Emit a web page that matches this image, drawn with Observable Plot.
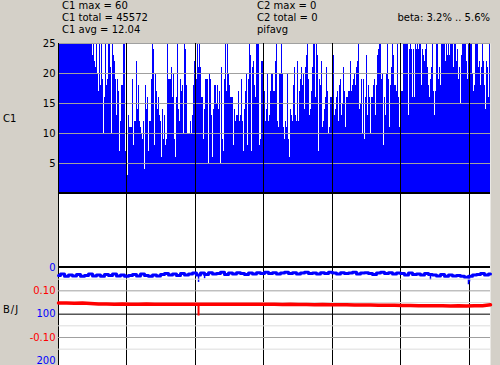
<!DOCTYPE html>
<html>
<head>
<meta charset="utf-8">
<script src="https://cdn.jsdelivr.net/npm/d3@7"></script>
<script src="https://cdn.jsdelivr.net/npm/@observablehq/plot@0.6"></script>
<style>
html, body { margin: 0; padding: 0; background: #d4d0c8; }
#wrap { position: relative; width: 500px; height: 365px; overflow: hidden; background: #d4d0c8;
        font-family: "DejaVu Sans", sans-serif; font-size: 10px; color: #000; }
#wrap svg { position: absolute; left: 0; top: 0; }
.t { position: absolute; line-height: 12.2px; white-space: pre; }
</style>
</head>
<body>
<div id="wrap"></div>
<script>
// ---------------- data ----------------
const TOTAL_SAMPLES = 3785;          // 45572 / 12.04
const COLUMNS = 432;                 // one value per drawn column
const c1Stats = ["C1 max = 60", "C1 total = 45572", "C1 avg = 12.04"];
const c2Stats = ["C2 max = 0", "C2 total = 0", "pifavg"];
const betaText = "beta: 3.2% .. 5.6%";
const c1Label = "C1";
const bjLabel = "B/J";

const c1Ticks = [5, 10, 15, 20, 25];
const markerSamples = [600, 1200, 1800, 2400, 3000, 3600];

// C1 column values (clipped display at 25)
const c1Columns = [
  25,25,25,25,25,25,25,25,25,25,25,25,25,25,25,25,25,25,25,25,25,25,25,25,25,25,25,25,25,25,25,25,25,25,
  23,25,22,21,25,20,17,25,18,25,19,10,16,25,18,19,25,25,21,10,25,23,22,19,13,19,17,7,12,18,18,25,25,7,7,3,
  13,11,11,11,19,8,12,12,22,14,18,12,11,10,9,12,4,18,14,16,7,12,12,19,25,24,8,20,17,14,16,13,12,6,14,9,
  13,8,9,25,19,19,19,21,16,20, 9,6,16,25,14,12,19,17,18,10, 25,24,18,10,10,10,12,10,13,18,
  22,19,19,25,21,25,21,16,16,9, 14,19,19,19,5,20,19,13,6,14, 18,18,15,18,14,17,5,21,9,7,
  19,25,17,25,20,18,16,16,16,8, 14,12,13,13,17,12,13,19,12,7, 14,17,20,8,19,25,23,7,21,22,
  18,16,25,25,25,8,9,22,22,23, 17,12,14,20,12,13,17,20,
  20,17,17,22,25,12,11,20,20,25, 20,11,9,12,11,20,9,6,14,13, 12,18,21,13,12,22,12,17,19,21,
  18,20,14,21,23,25,19,13,14,17, 21,25,25,16,25,23,7,19,18,22, 11,12,14,16,21,17,10,11,16,16,
  23,23,13,14,16,17,12,18,19,13, 15,21,17,11,16,16,17,17,22,17, 18,19,20,18,21,22,25,14,15,19,
  10,19,9,16,23,13,18,16,10,16, 16,18,19,13,18,23,24,25,
  25,19,20,8,16,13,20,25,19,11, 18,21,25,23,18,18,17,25,16,11, 13,17,17,25,25,25,25,25,13,24,
  25,24,16,24,16,25,24,25,24,25, 25,18,24,23,22,24,25,21,18,16, 19,21,25,17,13,17,25,25,19,21,
  18,25,25,25,25,22,25,23,25,23, 25,25,25,21,25,25,22,24,19,21, 15,23,25,25,25,25,22,19,25,25,
  25,25,20,17,18,25,25,25,21,22, 18,21,25,22,18,14,22,21,16,25
];

// B (blue, 0..200 axis) sampled every 4th column
const bjBlueStep = 4;
const bjBlue = [
  17,14,19,16,18,15,19,17,14,18,16,19,15,17,14,18,16,19,17,15,18,14,17,19,16,18,15,
  13,16,14,17,13,16,14,12,16,
  12,15,11,14,13,10,15,12,14,11,13,15,12,14,11,13,
  10,13,11,14,12,10,13,11,14,12,10,13,12,14,11,13,10,12,14,11,13,12,10,14,12,11,13,15,12,10,13,11,14,12,
  13,16,12,15,14,16,13,15,
  16,18,15,19,16,18,17,19,
  21,19,16,
  15,13,16,14
];
const bjBlueSpikeSample = [1227, 1280, 3259, 3592, 3601];
const bjBlueSpikeLow    = [15, 13, 14, 18, 17];
const bjBlueSpikeHigh   = [32, 24, 27, 37, 31];

// J (red, -0.10..0.10 axis) sampled every 8th column
const bjRedStep = 8;
const bjRed = [
  0.048,0.048,0.047,0.048,0.046,0.044,0.044,0.043,0.044,0.043,0.043,0.044,0.043,0.043,0.042,
  0.043,0.043,0.042,0.043,0.043,0.042,0.043,0.043,0.042,0.043,0.042,0.042,0.042,0.041,0.042,
  0.041,0.041,0.040,0.041,0.040,0.040,0.040,0.039,0.039,0.039,0.038,0.038,0.038,0.037,0.037,
  0.036,0.036,0.036,0.036,0.035,0.036,0.035,0.036,0.036,0.040
];
const bjRedSpikeSample = [1227];
const bjRedSpikeLow    = [0.042];
const bjRedSpikeHigh   = [-0.008];

const blueTicks = [0, 100, 200];
const redTicks = [0.10, -0.10];
const redMinorGrid = [0.15, 0.05, -0.05, -0.15];

// ---------------- build ----------------
const wrap = document.getElementById("wrap");
const colW = TOTAL_SAMPLES / COLUMNS;
const W = 500, H = 365;
const BLUE_MAX = 210;   // visible extent of the bottom panel on the blue scale
const fontStyle = {background: "transparent", fontFamily: "'DejaVu Sans', sans-serif", fontSize: "10px", color: "black"};
const base = {width: W, height: H, marginLeft: 58, marginRight: 10, style: fontStyle};
const xOpt = {domain: [0, TOTAL_SAMPLES], axis: null};

const c1Rows = c1Columns.map((v, i) => ({x1: i * colW, x2: (i + 1) * colW, v}));
const blueRows = bjBlue.map((v, k) => ({s: Math.min(k * bjBlueStep * colW, TOTAL_SAMPLES), v}));
const blueSpikes = bjBlueSpikeSample.map((s, i) => ({s, lo: bjBlueSpikeLow[i], hi: bjBlueSpikeHigh[i]}));
const redRows = bjRed.map((v, k) => ({s: Math.min(k * bjRedStep * colW, TOTAL_SAMPLES), v}));
const redSpikes = bjRedSpikeSample.map((s, i) => ({s, lo: bjRedSpikeLow[i], hi: bjRedSpikeHigh[i]}));

// top (C1) panel + empty middle panel: y extended below 0 for the blank band
const topPlot = Plot.plot({
  ...base, marginTop: 43, marginBottom: 98,
  x: xOpt,
  y: {domain: [-74 / 6, 25], axis: null},
  marks: [
    Plot.frame({fill: "white", stroke: "none"}),
    Plot.rect(c1Rows, {x1: "x1", x2: "x2", y1: 0, y2: "v", fill: "#0000ff"}),
    Plot.ruleY(c1Ticks, {stroke: "#a0a0a0"}),
    Plot.ruleX(markerSamples, {stroke: "black", shapeRendering: "crispEdges"}),
    Plot.ruleY([0], {stroke: "black", strokeWidth: 2, dy: -0.5}),
    Plot.ruleX([0], {stroke: "black"}),
    Plot.text(c1Ticks, {x: 0, y: d => d, text: d => String(d), textAnchor: "end", dx: -3, fill: "black", fontSize: 10})
  ]
});

// bottom panel, blue scale
const bottomPlot = Plot.plot({
  ...base, marginTop: 267, marginBottom: 0,
  x: xOpt,
  y: {domain: [0, BLUE_MAX], reverse: true, axis: null},
  marks: [
    Plot.frame({fill: "white", stroke: "none"}),
    Plot.ruleX(markerSamples, {stroke: "black", shapeRendering: "crispEdges"}),
    Plot.ruleY([100], {stroke: "black"}),
    Plot.ruleY([0], {stroke: "black", strokeWidth: 2, dy: -0.5}),
    Plot.ruleX([0], {stroke: "black"}),
    Plot.line(blueRows, {x: "s", y: "v", stroke: "#0000ff", strokeWidth: 3, curve: "step"}),
    Plot.ruleX(blueSpikes, {x: "s", y1: "lo", y2: "hi", stroke: "#0000ff", strokeWidth: 1.5}),
    Plot.text(blueTicks, {x: 0, y: d => d, text: d => String(d), textAnchor: "end", dx: -3, fill: "#0000ff", fontSize: 10})
  ]
});

// bottom panel, red scale (0.10 on red ↔ 50 on blue)
const redPlot = Plot.plot({
  ...base, marginTop: 267, marginBottom: 0,
  x: xOpt,
  y: {domain: [(100 - BLUE_MAX) / 500, 100 / 500], axis: null},
  marks: [
    Plot.ruleY(redMinorGrid, {stroke: "#dcdcdc"}),
    Plot.ruleY(redTicks, {stroke: "#a0a0a0"}),
    Plot.line(redRows, {x: "s", y: "v", stroke: "#ff0000", strokeWidth: 3.5}),
    Plot.ruleX(redSpikes, {x: "s", y1: "lo", y2: "hi", stroke: "#ff0000", strokeWidth: 2}),
    Plot.text(redTicks, {x: 0, y: d => d, text: d => d.toFixed(2), textAnchor: "end", dx: -3, fill: "#ff0000", fontSize: 10})
  ]
});

wrap.append(topPlot, bottomPlot, redPlot);

function addText(lines, css) {
  const d = document.createElement("div");
  d.className = "t";
  d.textContent = lines.join("\n");
  Object.assign(d.style, css);
  wrap.append(d);
}
addText(c1Stats, {left: "62px", top: "0px"});
addText(c2Stats, {left: "257px", top: "0px"});
addText([betaText], {right: "10px", top: "12.2px"});
addText([c1Label], {left: "3px", top: "113px"});
addText([bjLabel], {left: "3px", top: "304px", letterSpacing: "1px"});
</script>
</body>
</html>
